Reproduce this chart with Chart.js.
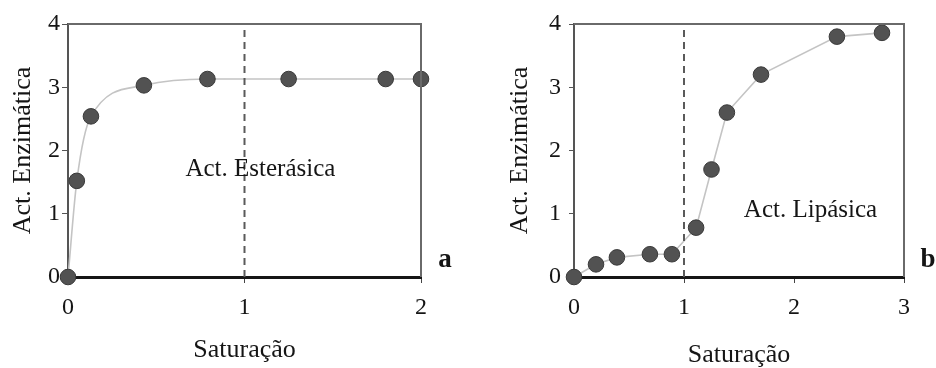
<!DOCTYPE html>
<html>
<head>
<meta charset="utf-8">
<script src="https://cdn.jsdelivr.net/npm/chart.js@4.4.1/dist/chart.umd.min.js"></script>
<style>
  body { margin: 0; background: #fff; }
  #wrap { position: relative; width: 936px; height: 368px; }
  canvas { position: absolute; top: 0; }
</style>
</head>
<body>
<div id="wrap">
  <canvas id="chartA" width="468" height="368" style="left:0"></canvas>
  <canvas id="chartB" width="468" height="368" style="left:468px"></canvas>
</div>
<script>
// panel a - esterase activity
const satA = [0, 0.05, 0.13, 0.43, 0.79, 1.25, 1.80, 2.0];
const actA = [0, 1.52, 2.54, 3.03, 3.13, 3.13, 3.13, 3.13];
// panel b - lipase activity
const satB = [0, 0.20, 0.39, 0.69, 0.89, 1.11, 1.25, 1.39, 1.70, 2.39, 2.80];
const actB = [0, 0.20, 0.31, 0.36, 0.36, 0.78, 1.70, 2.60, 3.20, 3.80, 3.86];

const xTicksA = [0, 1, 2];
const xTicksB = [0, 1, 2, 3];
const yTicks = [0, 1, 2, 3, 4];
const critLine = [1, 1];        // saturation = 1
const critSpan = [0, 3.93];
const notesA = ["Act. Esterásica", 1.09, 1.70];
const notesB = ["Act. Lipásica", 2.15, 1.06];
const xTitle = "Saturação";
const yTitle = "Act. Enzimática";

const serif = "'Liberation Serif', 'Times New Roman', serif";
const ink = "#151515";

// draws top/right frame, the note text and the panel letter
const extras = {
  id: "extras",
  afterDatasetsDraw(chart, args, o) {
    const c = chart.ctx, a = chart.chartArea;
    c.save();
    c.strokeStyle = "#6a6a6a";
    c.lineWidth = 2;
    c.beginPath();
    c.moveTo(a.left, a.top);
    c.lineTo(a.right, a.top);
    c.lineTo(a.right, a.bottom);
    c.stroke();
    c.fillStyle = ink;
    c.font = "25px " + serif;
    c.textAlign = "center";
    c.textBaseline = "middle";
    c.fillText(o.note[0], chart.scales.x.getPixelForValue(o.note[1]), chart.scales.y.getPixelForValue(o.note[2]));
    c.font = "bold 27px " + serif;
    c.fillText(o.letter, a.right + 24, a.bottom - 17);
    c.restore();
  }
};

function makeChart(id, xs, ys, xTicks, cfg) {
  const pts = xs.map((x, i) => ({ x: x, y: ys[i] }));
  const dash = critLine.map((x, i) => ({ x: x, y: critSpan[i] }));
  return new Chart(document.getElementById(id), {
    type: "scatter",
    data: {
      datasets: [
        {
          data: dash,
          showLine: true,
          borderColor: "#5a5a5a",
          borderWidth: 2,
          borderDash: [7, 5],
          pointRadius: 0,
          clip: false
        },
        {
          data: pts,
          showLine: true,
          borderColor: "#c4c4c4",
          borderWidth: 1.6,
          cubicInterpolationMode: cfg.smooth ? "monotone" : "default",
          tension: 0,
          pointRadius: 7.8,
          pointBackgroundColor: "#525252",
          pointBorderColor: "#3a3a3a",
          pointBorderWidth: 1,
          clip: false
        }
      ]
    },
    options: {
      responsive: false,
      animation: false,
      events: [],
      layout: { padding: { top: 24, right: cfg.padRight, left: 0, bottom: 0 } },
      plugins: {
        legend: { display: false },
        tooltip: { enabled: false },
        extras: { note: cfg.note, letter: cfg.letter }
      },
      scales: {
        x: {
          type: "linear",
          min: 0,
          max: xTicks[xTicks.length - 1],
          afterBuildTicks: (s) => { s.ticks = xTicks.map((v) => ({ value: v })); },
          afterFit: (s) => { s.height = 91; },
          border: { display: true, color: ink, width: 3 },
          grid: { drawOnChartArea: false, drawTicks: true, tickLength: 6, color: "#444" },
          ticks: { padding: 10, color: ink, font: { family: serif, size: 24 } },
          title: {
            display: true, text: xTitle, color: ink,
            font: { family: serif, size: 26, lineHeight: 1 },
            padding: { top: 0, bottom: cfg.xTitlePad }
          }
        },
        y: {
          type: "linear",
          min: 0,
          max: 4,
          afterBuildTicks: (s) => { s.ticks = yTicks.map((v) => ({ value: v })); },
          afterFit: (s) => { s.width = cfg.yWidth; },
          border: { display: true, color: "#555", width: 2 },
          grid: { drawOnChartArea: false, drawTicks: true, tickLength: cfg.yTick, color: "#555" },
          ticks: { padding: cfg.yPad, color: ink, font: { family: serif, size: 24 } },
          title: {
            display: true, text: yTitle, color: ink,
            font: { family: serif, size: 26, lineHeight: 1 },
            padding: { top: cfg.yTitlePad, bottom: 0 }
          }
        }
      }
    },
    plugins: [extras]
  });
}

makeChart("chartA", satA, actA, xTicksA, {
  smooth: true, padRight: 47, yWidth: 68, yTick: 6, yPad: 2,
  xTitlePad: 5, yTitlePad: 10, note: notesA, letter: "a"
});
makeChart("chartB", satB, actB, xTicksB, {
  smooth: false, padRight: 32, yWidth: 106, yTick: 5, yPad: 8,
  xTitlePad: 0, yTitlePad: 39, note: notesB, letter: "b"
});
</script>
</body>
</html>
